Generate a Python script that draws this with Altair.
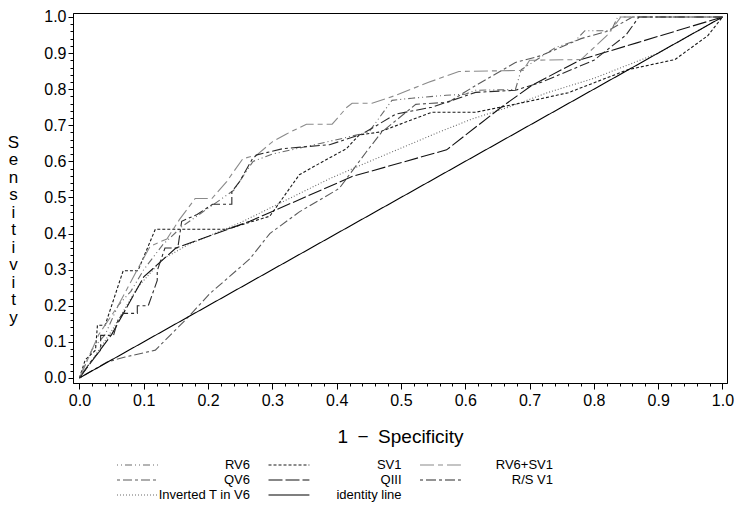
import altair as alt
import pandas as pd

# ---- series names, styles in legend order ----
names = ["RV6", "QV6", "Inverted T in V6", "SV1", "QIII", "identity line", "RV6+SV1", "R/S V1"]
legend_col = [0, 0, 0, 1, 1, 1, 2, 2]
legend_row = [0, 1, 2, 0, 1, 2, 0, 1]

colors = ["#6a6a6a", "#5a5a5a", "#6a6a6a", "#1a1a1a", "#111111", "#000000", "#8a8a8a", "#2a2a2a"]
dashes = [[1, 3, 1, 3, 7, 3], [3, 3, 9, 3], [1, 2], [3, 2], [14, 3], [1, 0], [14, 4, 5, 4], [3, 3, 10, 3]]

# ---- curve values (1 - specificity, sensitivity) ----
rv6_x = [0, 0.01, 0.02, 0.04, 0.06, 0.08, 0.10, 0.13, 0.16, 0.20, 0.24, 0.27, 0.30, 0.35, 0.40, 0.45, 0.486,
         0.517, 0.57, 0.60, 0.616, 0.678, 0.687, 0.74, 0.771, 0.786, 0.827, 0.837, 1.0]
rv6_y = [0, 0.04, 0.08, 0.12, 0.20, 0.24, 0.30, 0.37, 0.42, 0.47, 0.52, 0.60, 0.62, 0.64, 0.66, 0.681, 0.769,
         0.775, 0.783, 0.786, 0.797, 0.799, 0.854, 0.915, 0.934, 0.962, 0.962, 1.0, 1.0]

qv6_x = [0, 0.043, 0.071, 0.118, 0.164, 0.203, 0.265, 0.296, 0.342, 0.404, 0.446, 0.47, 0.523, 0.574, 0.616,
         0.678, 0.718, 0.78, 0.82, 0.86, 1.0]
qv6_y = [0, 0.044, 0.058, 0.077, 0.159, 0.234, 0.33, 0.40, 0.46, 0.525, 0.626, 0.681, 0.758, 0.764, 0.81,
         0.874, 0.893, 0.94, 0.96, 1.0, 1.0]

invt_x = [0, 0.02, 0.05, 0.09, 0.13, 0.17, 0.25, 0.389, 0.45, 0.559, 0.61, 0.667, 0.729, 0.80, 0.90, 1.0]
invt_y = [0, 0.05, 0.13, 0.25, 0.33, 0.37, 0.43, 0.552, 0.599, 0.681, 0.717, 0.75, 0.791, 0.83, 0.90, 1.0]

sv1_x = [0, 0.009, 0.025, 0.028, 0.04, 0.068, 0.091, 0.118, 0.229, 0.296, 0.342, 0.378, 0.415, 0.435, 0.466,
         0.548, 0.616, 0.693, 0.76, 0.853, 0.926, 0.977, 1.0]
sv1_y = [0, 0.05, 0.077, 0.146, 0.146, 0.297, 0.297, 0.412, 0.412, 0.448, 0.563, 0.599, 0.635, 0.673, 0.681,
         0.736, 0.736, 0.764, 0.79, 0.854, 0.882, 0.948, 1.0]

qiii_x = [0, 0.05, 0.10, 0.15, 0.265, 0.424, 0.571, 0.656, 0.703, 0.78, 0.868, 1.0]
qiii_y = [0, 0.12, 0.28, 0.36, 0.434, 0.558, 0.632, 0.75, 0.81, 0.882, 0.929, 1.0]

ident_x = [0, 1.0]
ident_y = [0, 1.0]

rv6sv1_x = [0, 0.01, 0.03, 0.06, 0.09, 0.11, 0.136, 0.156, 0.18, 0.206, 0.229, 0.254, 0.276, 0.30, 0.322,
            0.353, 0.393, 0.416, 0.424, 0.455, 0.492, 0.543, 0.59, 0.69, 0.70, 0.78, 0.82, 0.842, 1.0]
rv6sv1_y = [0, 0.04, 0.12, 0.20, 0.30, 0.365, 0.385, 0.44, 0.497, 0.497, 0.544, 0.607, 0.618, 0.654, 0.676,
            0.703, 0.703, 0.75, 0.761, 0.761, 0.783, 0.819, 0.849, 0.852, 0.88, 0.882, 0.948, 1.0, 1.0]

rsv1_x = [0, 0.017, 0.033, 0.033, 0.053, 0.06, 0.068, 0.09, 0.09, 0.107, 0.121, 0.121, 0.133, 0.153, 0.159,
          0.183, 0.207, 0.237, 0.237, 0.249, 0.269, 0.276, 0.316, 0.347, 0.389, 0.44, 0.492, 0.548, 0.616,
          0.678, 0.718, 0.80, 0.85, 0.87, 1.0]
rsv1_y = [0, 0.044, 0.077, 0.118, 0.118, 0.16, 0.179, 0.179, 0.20, 0.20, 0.27, 0.297, 0.36, 0.36, 0.434,
          0.453, 0.481, 0.481, 0.516, 0.544, 0.607, 0.618, 0.635, 0.64, 0.646, 0.676, 0.731, 0.75, 0.791,
          0.797, 0.819, 0.88, 0.95, 1.0, 1.0]

major_ticks = [0.0, 0.1, 0.2, 0.3, 0.4, 0.5, 0.6, 0.7, 0.8, 0.9, 1.0]
minor_ticks = [round(i * 0.02, 2) for i in range(51) if i % 5 != 0]

series_xy = {
    "RV6": (rv6_x, rv6_y),
    "QV6": (qv6_x, qv6_y),
    "Inverted T in V6": (invt_x, invt_y),
    "SV1": (sv1_x, sv1_y),
    "QIII": (qiii_x, qiii_y),
    "identity line": (ident_x, ident_y),
    "RV6+SV1": (rv6sv1_x, rv6sv1_y),
    "R/S V1": (rsv1_x, rsv1_y),
}

rows = []
for name, (xs_, ys_) in series_xy.items():
    for i, (a, b) in enumerate(zip(xs_, ys_)):
        rows.append({"series": name, "x": a, "y": b, "order": i})
df = pd.DataFrame(rows)

leg = pd.DataFrame({"series": names, "col": legend_col, "row": legend_row})

FONT = "Liberation Sans"
x_dom = [-0.01, 1.007]
y_dom = [-0.014, 1.011]

color_enc = alt.Color("series:N", scale=alt.Scale(domain=names, range=colors), legend=None)
dash_enc = alt.StrokeDash("series:N", scale=alt.Scale(domain=names, range=dashes), legend=None)

curves = alt.Chart(df).mark_line(strokeWidth=1.1).encode(
    x=alt.X("x:Q", scale=alt.Scale(domain=x_dom, nice=False, zero=False),
            axis=alt.Axis(values=major_ticks, format=".1f", labelFont=FONT, labelFontSize=16,
                          labelColor="black", tickSize=6, tickColor="black", domainColor="black",
                          grid=False, labelPadding=3, title="1\u2002\u2212\u2002Specificity", titleFont=FONT,
                          titleFontSize=19, titleFontWeight="normal", titleColor="black",
                          titlePadding=19, labelFlush=False)),
    y=alt.Y("y:Q", scale=alt.Scale(domain=y_dom, nice=False, zero=False),
            axis=alt.Axis(values=major_ticks, format=".1f", labelFont=FONT, labelFontSize=16,
                          labelColor="black", tickSize=5, tickColor="black", domainColor="black",
                          grid=False, labelPadding=2, labelFlush=False,
                          title=list("Sensitivity"), titleAngle=0, titleFont=FONT, titleFontSize=17,
                          titleFontWeight="normal", titleColor="black", titleLineHeight=17.5,
                          titleAlign="center", titleBaseline="middle", titleX=-60, titleY=129)),
    color=color_enc,
    strokeDash=dash_enc,
    order="order:Q",
)

minor = alt.Chart(pd.DataFrame({"x": ident_x, "y": ident_y})).mark_point(opacity=0).encode(
    x=alt.X("x:Q", scale=alt.Scale(domain=x_dom, nice=False, zero=False),
            axis=alt.Axis(values=minor_ticks, labels=False, tickSize=3, tickColor="black",
                          domain=False, grid=False, title="", orient="bottom")),
    y=alt.Y("y:Q", scale=alt.Scale(domain=y_dom, nice=False, zero=False),
            axis=alt.Axis(values=minor_ticks, labels=False, tickSize=3, tickColor="black",
                          domain=False, grid=False, title="", orient="left")),
)

leg_x = alt.Scale(domain=[0, 2], range=[44, 347])
leg_y = alt.Scale(domain=[0, 2], range=[452, 482])

legend_rules = alt.Chart(leg).transform_calculate(
    col_end="datum.col + 0.27"
).mark_rule(strokeWidth=1.1).encode(
    x=alt.X("col:Q", scale=leg_x, axis=None),
    x2="col_end:Q",
    y=alt.Y("row:Q", scale=leg_y, axis=None),
    color=color_enc,
    strokeDash=dash_enc,
)

legend_text = alt.Chart(leg).transform_calculate(
    lab_x="datum.col + 0.878"
).mark_text(align="right", baseline="middle", font=FONT, fontSize=13, color="black").encode(
    x=alt.X("lab_x:Q", scale=leg_x, axis=None),
    y=alt.Y("row:Q", scale=leg_y, axis=None),
    text="series:N",
)

chart = alt.layer(curves, minor, legend_rules, legend_text).resolve_scale(
    x="independent", y="independent"
).properties(
    width=654, height=370,
    autosize=alt.AutoSizeParams(type="none"),
    padding={"left": 65, "top": 5, "right": 8, "bottom": 124},
    background="white",
).configure_view(stroke="black", strokeWidth=1)

chart.save("out.html", embed_options={"renderer": "svg", "actions": False})
